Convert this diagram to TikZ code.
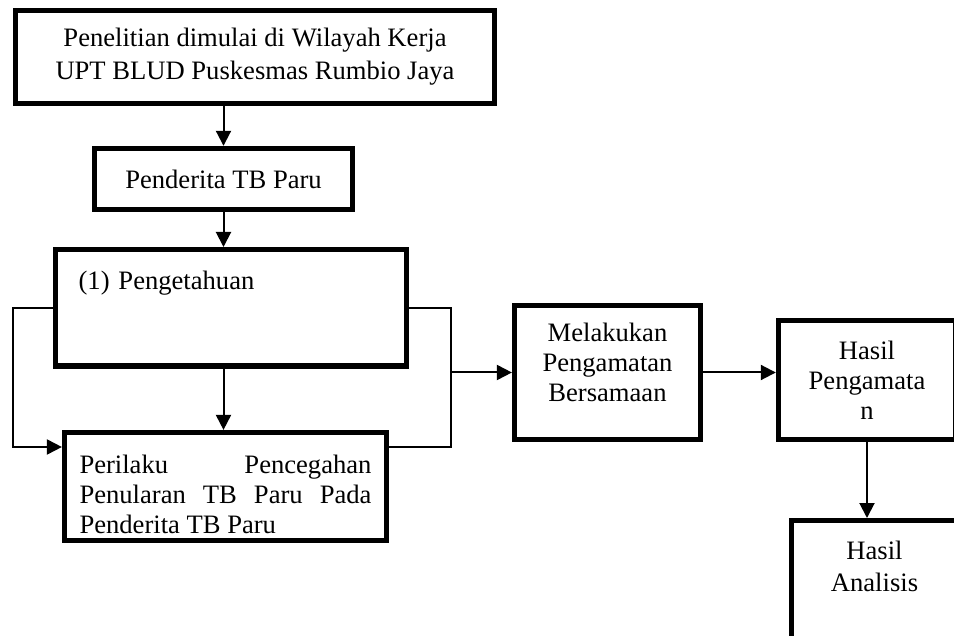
\documentclass[tikz,border=0pt]{standalone}
\usepackage{fontspec}
\setmainfont{Liberation Serif}
\usepackage{tikz}
\usetikzlibrary{arrows.meta}
\definecolor{flowInk}{RGB}{0,0,0}
\hyphenpenalty=10000
\tolerance=9999

\begin{document}
\begin{tikzpicture}[x=0.5pt, y=-0.5pt,
  box/.style={draw=flowInk, line width=2.6pt, align=center,
    font=\fontsize{13.3pt}{15pt}\selectfont},
  link/.style={draw=flowInk, line width=1pt},
  flow/.style={link, -{Triangle[length=7.5pt,width=7.5pt]}}]
\useasboundingbox (0,0) rectangle (954,636);

\node[box, minimum width=239.6pt, minimum height=46.6pt,
  font=\fontsize{13.3pt}{16.5pt}\selectfont] (start) at (255,57)
  {Penelitian dimulai di Wilayah Kerja\\UPT BLUD Puskesmas Rumbio Jaya};
\node[box, minimum width=129pt, minimum height=30.6pt] (sakit) at (223.5,179)
  {Penderita TB Paru};
\node[box, anchor=north west, align=left, text width=152.6pt, inner xsep=11.5pt,
  inner ysep=10.5pt, text depth=28pt] (tahu) at (53,247) {(1) Pengetahuan};
\node[box, minimum width=161pt, minimum height=54pt, align=justify,
  text width=146pt, text depth=22.5pt] (perilaku) at (225.5,486.5)
  {Perilaku Pencegahan Penularan TB Paru Pada Penderita TB Paru};
\node[box, minimum width=93pt, minimum height=67pt, text depth=10.5pt] (amati) at (607.5,372.5)
  {Melakukan\\Pengamatan\\Bersamaan};
\node[box, minimum width=88.6pt, minimum height=59.6pt] (hasil) at (867,380)
  {Hasil\\Pengamata\\n};
\node[box, anchor=north, minimum width=83pt, inner ysep=10.2pt, text depth=70pt,
  font=\fontsize{13.3pt}{16pt}\selectfont] (analisis) at (874.5,518)
  {Hasil\\Analisis};

\coordinate (lft) at (13,447);
\coordinate (rgt) at (451,447);

\draw[flow] (sakit.north |- start.south) -- (sakit.north);
\draw[flow] (sakit.south) -- (sakit.south |- tahu.north);
\draw[flow] (tahu.south -| sakit.south) -- (perilaku.north -| sakit.south);
\draw[flow] (tahu.west) -| (lft) -- (lft -| perilaku.west);
\draw[link] (tahu.east) -| (rgt) -- (rgt -| perilaku.east);
\draw[flow] (amati.west -| rgt) -- (amati.west);
\draw[flow] (amati.east) -- (amati.east -| hasil.west);
\draw[flow] (hasil.south) -- (hasil.south |- analisis.north);
\end{tikzpicture}
\end{document}
